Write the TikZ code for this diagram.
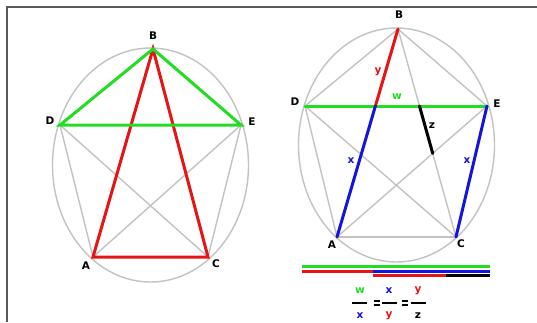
\documentclass[tikz,border=0pt]{standalone}
\usepackage{fontspec}
\setmainfont{DejaVu Sans}[BoldFont={DejaVu Sans Bold}]
\usetikzlibrary{intersections}
\definecolor{pgreen}{RGB}{34,221,34}
\definecolor{pred}{RGB}{230,20,20}
\definecolor{pblue}{RGB}{20,20,220}
\definecolor{pgray}{RGB}{195,195,195}
\definecolor{frame}{RGB}{90,90,90}
\tikzset{
  gline/.style={draw=pgray, line width=1.4pt},
  cline/.style={line width=3pt, line cap=round},
  lbl/.style={font=\bfseries\fontsize{10.5}{12}\selectfont, inner sep=0pt},
  barln/.style={line width=2.8pt},
  fracln/.style={line width=2pt},
}
\begin{document}
\begin{tikzpicture}[x=1pt,y=-1pt]
\useasboundingbox (0,0) rectangle (537,322);
\fill[white] (0,0) rectangle (537,322);
% frame
\draw[frame, line width=2pt] (7,322) -- (7,7) -- (537,7);

% ---------- left figure ----------
\coordinate (lB) at (153,49);
\coordinate (lD) at (60,125);
\coordinate (lE) at (241,125);
\coordinate (lA) at (93,257);
\coordinate (lC) at (208,257);
\draw[gline] (150.5,165) ellipse [x radius=98, y radius=117];
\draw[gline] (lD) -- (lA);
\draw[gline] (lC) -- (lE);
\draw[gline] (lD) -- (lC);
\draw[gline] (lA) -- (lE);
\draw[cline, pred] (lA) -- (lB) -- (lC) -- cycle;
\draw[cline, pgreen] (lD) -- (lB) -- (lE) -- cycle;
\node[lbl] (tlB) at (153,36) {B};
\node[lbl] (tlD) at (50,121) {D};
\node[lbl] (tlE) at (252,122) {E};
\node[lbl] (tlA) at (86,266) {A};
\node[lbl] (tlC) at (216,264) {C};

% ---------- right figure ----------
\coordinate (rB) at (398,29);
\coordinate (rD) at (305,106);
\coordinate (rE) at (487,106);
\coordinate (rA) at (337,237);
\coordinate (rC) at (456,237);
\draw[gline] (396.5,145) ellipse [x radius=98, y radius=117];
\draw[gline] (rB) -- (rD);
\draw[gline] (rB) -- (rE);
\draw[gline] (rD) -- (rA);
\draw[gline] (rA) -- (rC);
\draw[gline] (rD) -- (rC);
\draw[gline] (rA) -- (rE);
\draw[gline] (rB) -- (rC);
\coordinate (rX) at (intersection of rB--rA and rD--rE);
\coordinate (rY1) at (intersection of rB--rC and rD--rE);
\coordinate (rY2) at (intersection of rB--rC and rA--rE);
\draw[cline, pgreen] (rD) -- (rE);
\draw[cline, pred] (rB) -- (rX);
\draw[cline, pblue] (rX) -- (rA);
\draw[cline, pblue] (rC) -- (rE);
\draw[cline, black] (rY1) -- (rY2);
\node[lbl] (trB) at (399,15) {B};
\node[lbl] (trD) at (295,102) {D};
\node[lbl] (trE) at (497,104) {E};
\node[lbl] (trA) at (332,245) {A};
\node[lbl] (trC) at (461,244) {C};
\node[lbl, pred] (ty) at (378,72) {y};
\node[lbl, pgreen] (tw) at (397,97) {w};
\node[lbl] (tz) at (432,126) {z};
\node[lbl, pblue] (tx1) at (351,161) {x};
\node[lbl, pblue] (tx2) at (467,161) {x};

% ---------- bars ----------
\coordinate (g1) at (302,266.8); \coordinate (g2) at (490,266.8);
\coordinate (r1) at (302,271.2); \coordinate (r2) at (373,271.2); \coordinate (r3) at (490,271.2);
\coordinate (s1) at (373,275.4); \coordinate (s2) at (446,275.4); \coordinate (s3) at (490,275.4);
\draw[barln, pgreen] (g1) -- (g2);
\draw[barln, pred] (r1) -- (r2);
\draw[barln, pblue] (r2) -- (r3);
\draw[barln, pred] (s1) -- (s2);
\draw[barln, black] (s2) -- (s3);

% ---------- fraction ----------
\node[lbl, pgreen] (n1) at (360,291) {w};
\node[lbl, pblue] (n2) at (389,291) {x};
\node[lbl, pred] (n3) at (418,291) {y};
\node[lbl, pblue] (d1) at (360,316) {x};
\node[lbl, pred] (d2) at (389,316) {y};
\node[lbl] (d3) at (418,316) {z};
\draw[fracln] (352,302.5) -- (367,302.5);
\draw[fracln] (382,302.5) -- (397,302.5);
\draw[fracln] (411,302.5) -- (426,302.5);
\draw[fracln] (373.5,300.5) -- (379.5,300.5);
\draw[fracln] (373.5,304.5) -- (379.5,304.5);
\draw[fracln] (401.5,300.5) -- (407.5,300.5);
\draw[fracln] (401.5,304.5) -- (407.5,304.5);
\end{tikzpicture}
\end{document}
